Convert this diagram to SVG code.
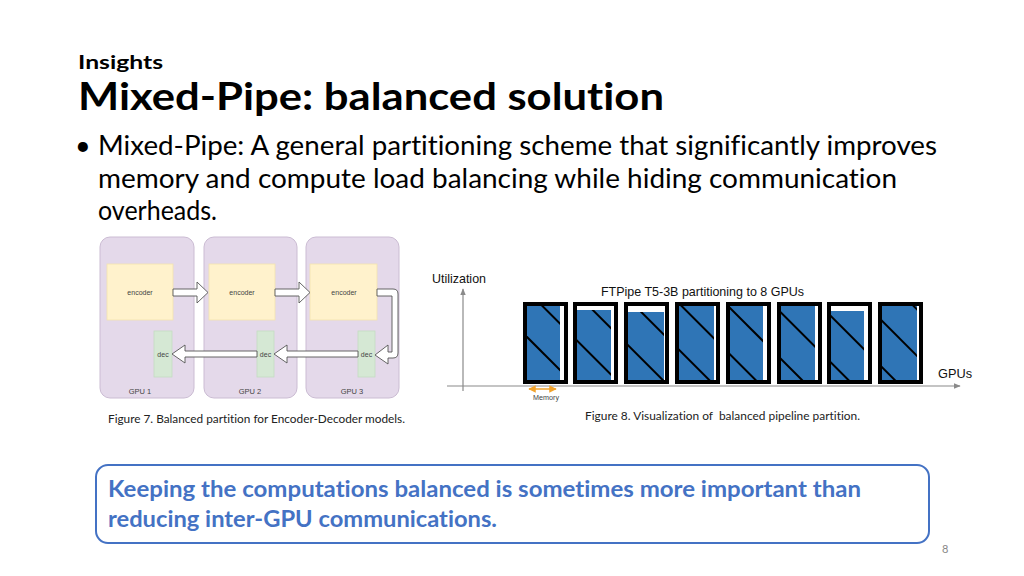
<svg xmlns="http://www.w3.org/2000/svg" width="1024" height="576" viewBox="0 0 1024 576">
<style>
text{font-variant-ligatures:none}
.hdr{font-family:Lato,"Open Sans","Liberation Sans",sans-serif;font-weight:bold;fill:#000}
.body{font-family:Lato,"Open Sans","Liberation Sans",sans-serif;fill:#000}
.cap{font-family:Lato,"Open Sans","Liberation Sans",sans-serif;font-size:11px;fill:#222}
.small{font-family:"Liberation Sans",Arial,sans-serif;fill:#444;text-anchor:middle}
.chart{font-family:"Liberation Sans",Arial,sans-serif;font-size:13px;fill:#111}
.gpu{fill:#e4d9ea;stroke:#cbbcd3;stroke-width:1}
.enc{fill:#fff2cc;stroke:#f3e3b0;stroke-width:0.8}
.dec{fill:#d5e8d4;stroke:#c4dcc2;stroke-width:0.8}
.barr{fill:#fff;stroke:#555;stroke-width:0.9;stroke-linejoin:round}
.bar{fill:#fff;stroke:#000;stroke-width:4}
.blue{fill:#2f75b6}
.hatch{stroke:#000;stroke-width:2}
.axis{stroke:#8a8a8a;stroke-width:1.2;fill:none}
.call{font-family:Lato,"Open Sans","Liberation Sans",sans-serif;font-weight:bold;font-size:22px;fill:#4472c4}
</style>
<defs>
<marker id="ah" viewBox="0 0 10 10" refX="9" refY="5" markerWidth="6" markerHeight="6" orient="auto-start-reverse">
<path d="M0,1 L10,5 L0,9 Z" fill="#8a8a8a"/>
</marker>
<marker id="oh" viewBox="0 0 10 10" refX="9" refY="5" markerWidth="5" markerHeight="5" orient="auto-start-reverse">
<path d="M0,0 L10,5 L0,10 Z" fill="#f2a32c"/>
</marker>
<clipPath id="blueclip">
<rect x="527" y="306" width="33" height="74"/>
<rect x="577" y="310" width="34" height="70"/>
<rect x="628" y="312" width="36" height="68"/>
<rect x="679" y="306" width="35" height="74"/>
<rect x="730" y="306" width="33" height="74"/>
<rect x="781" y="306" width="34" height="74"/>
<rect x="831" y="311" width="33" height="69"/>
<rect x="882" y="306" width="35" height="74"/>
</clipPath>
</defs>
<rect width="1024" height="576" fill="#fff"/>

<g id="header">
<text class="hdr" x="78" y="69" font-size="19" textLength="85" lengthAdjust="spacingAndGlyphs">Insights</text>
<text class="hdr" x="78" y="110" font-size="38" textLength="586" lengthAdjust="spacingAndGlyphs">Mixed-Pipe: balanced solution</text>
<text class="body" x="75" y="155" font-size="27">•</text>
<text class="body" x="98" y="155" font-size="27" textLength="839" lengthAdjust="spacingAndGlyphs">Mixed-Pipe: A general partitioning scheme that significantly improves</text>
<text class="body" x="98" y="188" font-size="27" textLength="799" lengthAdjust="spacingAndGlyphs">memory and compute load balancing while hiding communication</text>
<text class="body" x="98" y="220" font-size="27" textLength="119" lengthAdjust="spacingAndGlyphs">overheads.</text>
</g>

<g id="fig7">
<g id="gpu1">
<rect class="gpu" x="100" y="237" width="94" height="161" rx="10"/>
<text class="small" x="140" y="394" font-size="7.5">GPU 1</text>
</g>
<g id="gpu2">
<rect class="gpu" x="204" y="237" width="93" height="161" rx="10"/>
<text class="small" x="250" y="394" font-size="7.5">GPU 2</text>
</g>
<g id="gpu3">
<rect class="gpu" x="306" y="237" width="93" height="161" rx="10"/>
<text class="small" x="352" y="394" font-size="7.5">GPU 3</text>
</g>
<g id="enc1"><rect class="enc" x="107" y="264" width="66" height="56"/><text class="small" x="140" y="295" font-size="7">encoder</text></g>
<g id="enc2"><rect class="enc" x="209" y="264" width="66" height="56"/><text class="small" x="242" y="295" font-size="7">encoder</text></g>
<g id="enc3"><rect class="enc" x="310" y="264" width="67" height="56"/><text class="small" x="344" y="295" font-size="7">encoder</text></g>
<g id="dec1"><rect class="dec" x="154" y="331" width="18" height="46"/><text class="small" x="163" y="357" font-size="7">dec</text></g>
<g id="dec2"><rect class="dec" x="257" y="331" width="17" height="46"/><text class="small" x="265.5" y="357" font-size="7">dec</text></g>
<g id="dec3"><rect class="dec" x="358" y="331" width="17" height="46"/><text class="small" x="366.5" y="357" font-size="7">dec</text></g>
<g id="connectors">
<path class="barr" d="M173,289 L197,289 L197,282 L208,292.5 L197,303 L197,296 L173,296 Z"/>
<path class="barr" d="M275,289 L299,289 L299,282 L310,292.5 L299,303 L299,296 L275,296 Z"/>
<path class="barr" d="M377,289 L393,289 Q398,289 398,294 L398,353 Q398,358 393,358 L388,358 L388,364 L375,355 L388,345 L388,352 L392,352 L392,296 L377,296 Z"/>
<path class="barr" d="M358,351 L287,351 L287,345 L274,354 L287,363 L287,357 L358,357 Z"/>
<path class="barr" d="M257,351 L185,351 L185,345 L172,354 L185,363 L185,357 L257,357 Z"/>
</g>
</g>

<g id="fig8">
<text class="chart" x="432" y="283" textLength="54" lengthAdjust="spacingAndGlyphs">Utilization</text>
<text class="chart" x="601" y="296" textLength="203" lengthAdjust="spacingAndGlyphs">FTPipe T5-3B partitioning to 8 GPUs</text>
<text class="chart" x="938" y="378" textLength="34" lengthAdjust="spacingAndGlyphs">GPUs</text>
<line class="axis" x1="463" y1="391" x2="463" y2="289" marker-end="url(#ah)"/>
<line class="axis" x1="447" y1="386" x2="960" y2="386" marker-end="url(#ah)"/>
<g id="bars">
<rect class="bar" x="525" y="304" width="41" height="78"/>
<rect class="bar" x="575" y="304" width="41" height="78"/>
<rect class="bar" x="626" y="304" width="41" height="78"/>
<rect class="bar" x="677" y="304" width="41" height="78"/>
<rect class="bar" x="728" y="304" width="41" height="78"/>
<rect class="bar" x="779" y="304" width="41" height="78"/>
<rect class="bar" x="829" y="304" width="41" height="78"/>
<rect class="bar" x="880" y="304" width="41" height="78"/>
<g clip-path="url(#blueclip)">
<rect class="blue" x="520" y="300" width="410" height="90"/>
<line class="hatch" x1="500" y1="310" x2="1000" y2="810"/>
<line class="hatch" x1="500" y1="263.6" x2="1000" y2="763.6"/>
<line class="hatch" x1="500" y1="217.2" x2="1000" y2="717.2"/>
<line class="hatch" x1="500" y1="170.8" x2="1000" y2="670.8"/>
<line class="hatch" x1="500" y1="124.4" x2="1000" y2="624.4"/>
<line class="hatch" x1="500" y1="78" x2="1000" y2="578"/>
<line class="hatch" x1="500" y1="31.6" x2="1000" y2="531.6"/>
<line class="hatch" x1="500" y1="-14.8" x2="1000" y2="485.2"/>
<line class="hatch" x1="500" y1="-61.2" x2="1000" y2="438.8"/>
<line class="hatch" x1="500" y1="-107.6" x2="1000" y2="392.4"/>
</g>
</g>
<line x1="529" y1="389" x2="556" y2="389" stroke="#f2a32c" stroke-width="1.5" marker-start="url(#oh)" marker-end="url(#oh)"/>
<text x="533" y="400" font-family="Liberation Sans,Arial,sans-serif" font-size="7" fill="#444" textLength="26" lengthAdjust="spacingAndGlyphs">Memory</text>
</g>

<g id="captions">
<text class="cap" x="108" y="423" textLength="297" lengthAdjust="spacingAndGlyphs">Figure 7. Balanced partition for Encoder-Decoder models.</text>
<text class="cap" x="585" y="420" textLength="275" lengthAdjust="spacingAndGlyphs" xml:space="preserve">Figure 8. Visualization of  balanced pipeline partition.</text>
</g>

<g id="callout">
<rect x="96" y="465" width="833" height="78" rx="12" fill="#fff" stroke="#4472c4" stroke-width="2"/>
<text class="call" x="108" y="497" textLength="753" lengthAdjust="spacingAndGlyphs">Keeping the computations balanced is sometimes more important than</text>
<text class="call" x="108" y="527" textLength="389" lengthAdjust="spacingAndGlyphs">reducing inter-GPU communications.</text>
</g>

<text x="942" y="553" font-family="Lato,Liberation Sans,sans-serif" font-size="11" fill="#888">8</text>
</svg>
